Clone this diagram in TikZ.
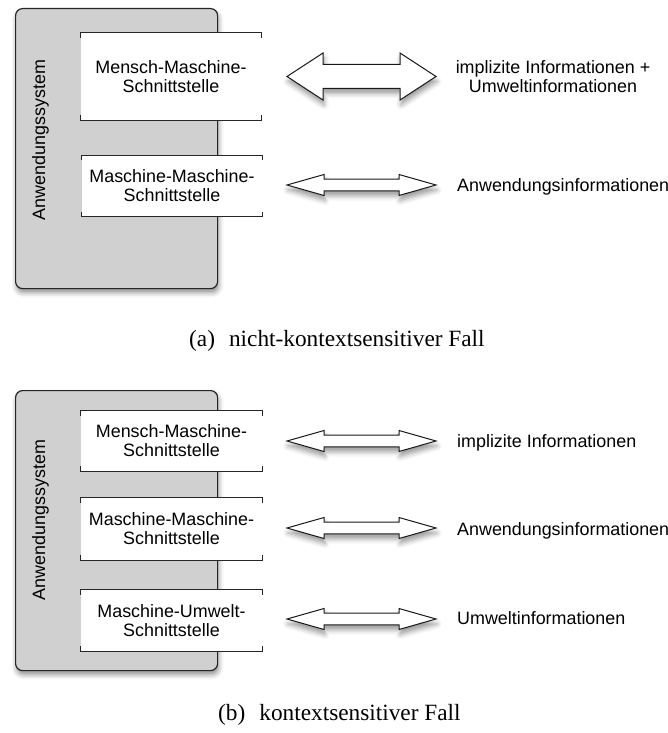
\documentclass[tikz,border=0pt]{standalone}
\usepackage{fontspec}
\setmainfont{Liberation Serif}
\setsansfont{Liberation Sans}
\usetikzlibrary{shadows.blur}

\definecolor{sysgray}{HTML}{D0D0D0}

% short vertical ticks at the corners plus top and bottom edges
\newcommand\ifaceframe[1]{%
  \draw[ifaceline] ([yshift=-5pt]#1.north west) -- (#1.north west)
        -- (#1.north east) -- ([yshift=-5pt]#1.north east);
  \draw[ifaceline] ([yshift=5pt]#1.south west) -- (#1.south west)
        -- (#1.south east) -- ([yshift=5pt]#1.south east);
}

\begin{document}
\begin{tikzpicture}[x=1pt,y=-1pt,
  sansfont/.style={font=\sffamily\fontsize{17.9}{19}\selectfont},
  sysbox/.style={draw=black!85, line width=1.2pt, fill=sysgray,
    rounded corners=7pt, anchor=north west, inner sep=0pt,
    blur shadow={shadow xshift=1pt, shadow yshift=-4pt,
      shadow blur radius=5pt, shadow opacity=45}},
  syslabel/.style={sansfont, rotate=90, anchor=base, inner sep=0pt},
  iface/.style={sansfont, fill=white, align=center, inner sep=0pt,
    minimum width=181pt},
  ifaceline/.style={draw=black!85, line width=0.9pt},
  infolabel/.style={sansfont, inner sep=0pt},
  arrowshape/.style={draw=black!90, line width=1pt, fill=white,
    line join=miter,
    blur shadow={shadow xshift=1pt, shadow yshift=-5pt,
      shadow blur radius=5pt, shadow opacity=40}},
  caption/.style={font=\rmfamily\fontsize{23.3}{28}\selectfont,
    inner sep=0pt, anchor=base west},
  % length, half head height, half shaft height, head length
  pics/dblarrow/.style n args={4}{code={
    \draw[arrowshape] ({-#1/2},0) -- ({-#1/2+#4},{-#2}) -- ({-#1/2+#4},{-#3})
      -- ({#1/2-#4},{-#3}) -- ({#1/2-#4},{-#2}) -- ({#1/2},0)
      -- ({#1/2-#4},{#2}) -- ({#1/2-#4},{#3}) -- ({-#1/2+#4},{#3})
      -- ({-#1/2+#4},{#2}) -- cycle;
  }}
]
\useasboundingbox (0,0) rectangle (668,733);

% ---------- (a) non context-sensitive case ----------
\node[sysbox, minimum width=202pt, minimum height=280pt] (sysA) at (15,8) {};
\node[syslabel] (sysAlabel) at (45,140) {Anwendungssystem};

\node[iface, minimum height=87pt] (ifA1) at (171,76.5)
  {Mensch-Maschine-\\Schnittstelle};
\ifaceframe{ifA1}
\node[iface, minimum height=61pt] (ifA2) at (172,186)
  {Maschine-Maschine-\\Schnittstelle};
\ifaceframe{ifA2}

\pic (arrA1) at (361.5,76.5) {dblarrow={149}{23.5}{12}{36}};
\pic (arrA2) at (361.5,185) {dblarrow={149}{10.5}{5.8}{37}};

\node[infolabel, align=center] (infA1) at (553,77)
  {implizite Informationen +\\Umweltinformationen};
\node[infolabel, anchor=base west] (infA2) at (457,191)
  {Anwendungsinformationen};

\node[caption] (capA) at (189,346)
  {(a)\hspace{0.35em} nicht-kontextsensitiver Fall};

% ---------- (b) context-sensitive case ----------
\node[sysbox, minimum width=202pt, minimum height=280pt] (sysB) at (15,390) {};
\node[syslabel] (sysBlabel) at (45,520) {Anwendungssystem};

\node[iface, minimum height=60pt] (ifB1) at (171.5,441)
  {Mensch-Maschine-\\Schnittstelle};
\ifaceframe{ifB1}
\node[iface, minimum height=62pt] (ifB2) at (171.5,529)
  {Maschine-Maschine-\\Schnittstelle};
\ifaceframe{ifB2}
\node[iface, minimum height=61pt] (ifB3) at (171.5,620.5)
  {Maschine-Umwelt-\\Schnittstelle};
\ifaceframe{ifB3}

\pic (arrB1) at (361.5,441) {dblarrow={149}{10.5}{5.8}{37}};
\pic (arrB2) at (361.5,528) {dblarrow={149}{10.5}{5.8}{37}};
\pic (arrB3) at (361.5,619) {dblarrow={149}{10.5}{5.8}{37}};

\node[infolabel, anchor=base west] (infB1) at (457,447)
  {implizite Informationen};
\node[infolabel, anchor=base west] (infB2) at (457,535)
  {Anwendungsinformationen};
\node[infolabel, anchor=base west] (infB3) at (457,624)
  {Umweltinformationen};

\node[caption] (capB) at (218,720)
  {(b)\hspace{0.35em} kontextsensitiver Fall};
\end{tikzpicture}
\end{document}
